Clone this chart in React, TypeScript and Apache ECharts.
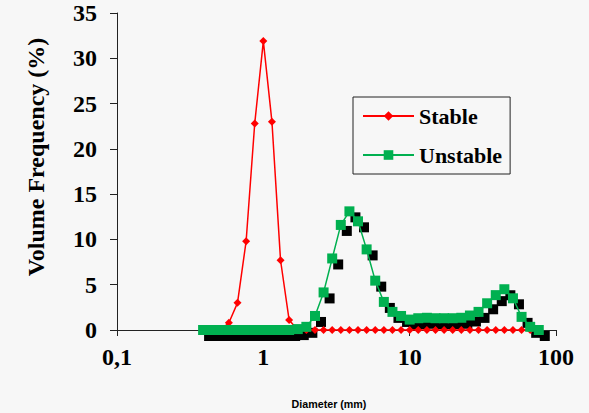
import React, { useEffect, useRef } from "react";
import * as echarts from "echarts";

// Particle diameter classes (mm)
const diameters = [
  0.3875, 0.4437, 0.508, 0.5817, 0.6661, 0.7627, 0.8733, 1.0, 1.145, 1.311,
  1.501, 1.719, 1.968, 2.254, 2.581, 2.955, 3.384, 3.875, 4.437, 5.08,
  5.817, 6.661, 7.627, 8.733, 10.0, 11.45, 13.11, 15.01, 17.19, 19.68,
  22.54, 25.81, 29.55, 33.84, 38.75, 44.37, 50.8, 58.17, 66.61, 76.27,
];

const stable = [
  0, 0, 0, 0.8, 3.0, 9.8, 22.8, 31.9, 23.0, 7.7,
  1.1, 0, 0, 0, 0, 0, 0, 0, 0, 0,
  0, 0, 0, 0, 0, 0, 0, 0, 0, 0,
  0, 0, 0, 0, 0, 0, 0, 0, 0, 0,
];

const unstable = [
  0, 0, 0, 0, 0, 0, 0, 0, 0, 0,
  0, 0.1, 0.35, 1.55, 4.15, 7.9, 11.6, 13.1, 12.0, 8.9,
  5.45, 3.1, 2.0, 1.55, 1.15, 1.3, 1.35, 1.3, 1.3, 1.3,
  1.35, 1.6, 2.0, 2.95, 3.85, 4.5, 3.5, 1.45, 0.35, 0.0,
];

const seriesNames = ["Stable", "Unstable"];
const xTickLabels = ["0,1", "1", "10", "100"];
const yTicks = [0, 5, 10, 15, 20, 25, 30, 35];

const serif = "'Liberation Serif', 'Times New Roman', serif";
const sans = "'Liberation Sans', Arial, sans-serif";

export default function App() {
  const ref = useRef<HTMLDivElement>(null);

  useEffect(() => {
    if (!ref.current) return;
    const chart = echarts.init(ref.current, undefined, { renderer: "svg" });
    const pair = (ys: number[]) => diameters.map((d, i) => [d, ys[i]]);

    chart.setOption({
      animation: false,
      backgroundColor: "#f7f7f7",
      grid: { left: 117, right: 33, top: 13, bottom: 83, containLabel: false },
      legend: {
        data: seriesNames,
        orient: "vertical",
        left: 353,
        top: 97,
        padding: [8, 8, 8, 9],
        itemWidth: 51,
        itemHeight: 12,
        itemGap: 17,
        borderColor: "#222",
        borderWidth: 1,
        textStyle: {
          fontFamily: serif,
          fontWeight: "bold",
          fontSize: 22,
          color: "#000",
          padding: [0, 0, 0, 0],
        },
      },
      xAxis: {
        type: "log",
        logBase: 10,
        min: 0.1,
        max: 100,
        splitNumber: 3,
        axisLine: { show: true, lineStyle: { color: "#222", width: 1 } },
        axisTick: { show: true, inside: false, length: 6, lineStyle: { color: "#222" } },
        minorTick: { show: false },
        splitLine: { show: false },
        axisLabel: {
          margin: 15,
          fontFamily: serif,
          fontWeight: "bold",
          fontSize: 24,
          color: "#000",
          formatter: (v: number) => {
            const k = Math.round(Math.log10(v)) + 1;
            return xTickLabels[k] ?? String(v);
          },
        },
      },
      yAxis: {
        type: "value",
        min: yTicks[0],
        max: yTicks[yTicks.length - 1],
        interval: 5,
        axisLine: { show: true, lineStyle: { color: "#222", width: 1 } },
        axisTick: { show: true, inside: false, length: 7, lineStyle: { color: "#222" } },
        splitLine: { show: false },
        axisLabel: {
          margin: 20,
          fontFamily: serif,
          fontWeight: "bold",
          fontSize: 24,
          color: "#000",
        },
      },
      graphic: [
        {
          type: "text",
          x: 36,
          y: 157,
          rotation: Math.PI / 2,
          style: {
            text: "Volume Frequency (%)",
            fontFamily: serif,
            fontWeight: "bold",
            fontSize: 24,
            fill: "#000",
            align: "center",
            verticalAlign: "middle",
          },
        },
        {
          type: "text",
          x: 329,
          y: 404,
          style: {
            text: "Diameter (mm)",
            fontFamily: sans,
            fontWeight: "bold",
            fontSize: 10.7,
            fill: "#000",
            align: "center",
            verticalAlign: "middle",
          },
        },
      ],
      series: [
        {
          name: "shadow",
          type: "line",
          data: pair(unstable),
          symbol: "rect",
          symbolSize: 10,
          symbolOffset: [6, 6],
          itemStyle: { color: "#000" },
          lineStyle: { width: 0, opacity: 0 },
          silent: true,
          z: 2,
        },
        {
          name: seriesNames[0],
          type: "line",
          data: pair(stable),
          symbol: "diamond",
          symbolSize: 8,
          itemStyle: { color: "#ff0000" },
          lineStyle: { color: "#ff0000", width: 1.5 },
          z: 3,
        },
        {
          name: seriesNames[1],
          type: "line",
          data: pair(unstable),
          symbol: "rect",
          symbolSize: 10,
          itemStyle: { color: "#00b050" },
          lineStyle: { color: "#00b050", width: 1.5 },
          z: 4,
        },
      ],
    });

    return () => chart.dispose();
  }, []);

  return (
    <div
      ref={ref}
      style={{ position: "fixed", left: 0, top: 0, width: 589, height: 413 }}
    />
  );
}
